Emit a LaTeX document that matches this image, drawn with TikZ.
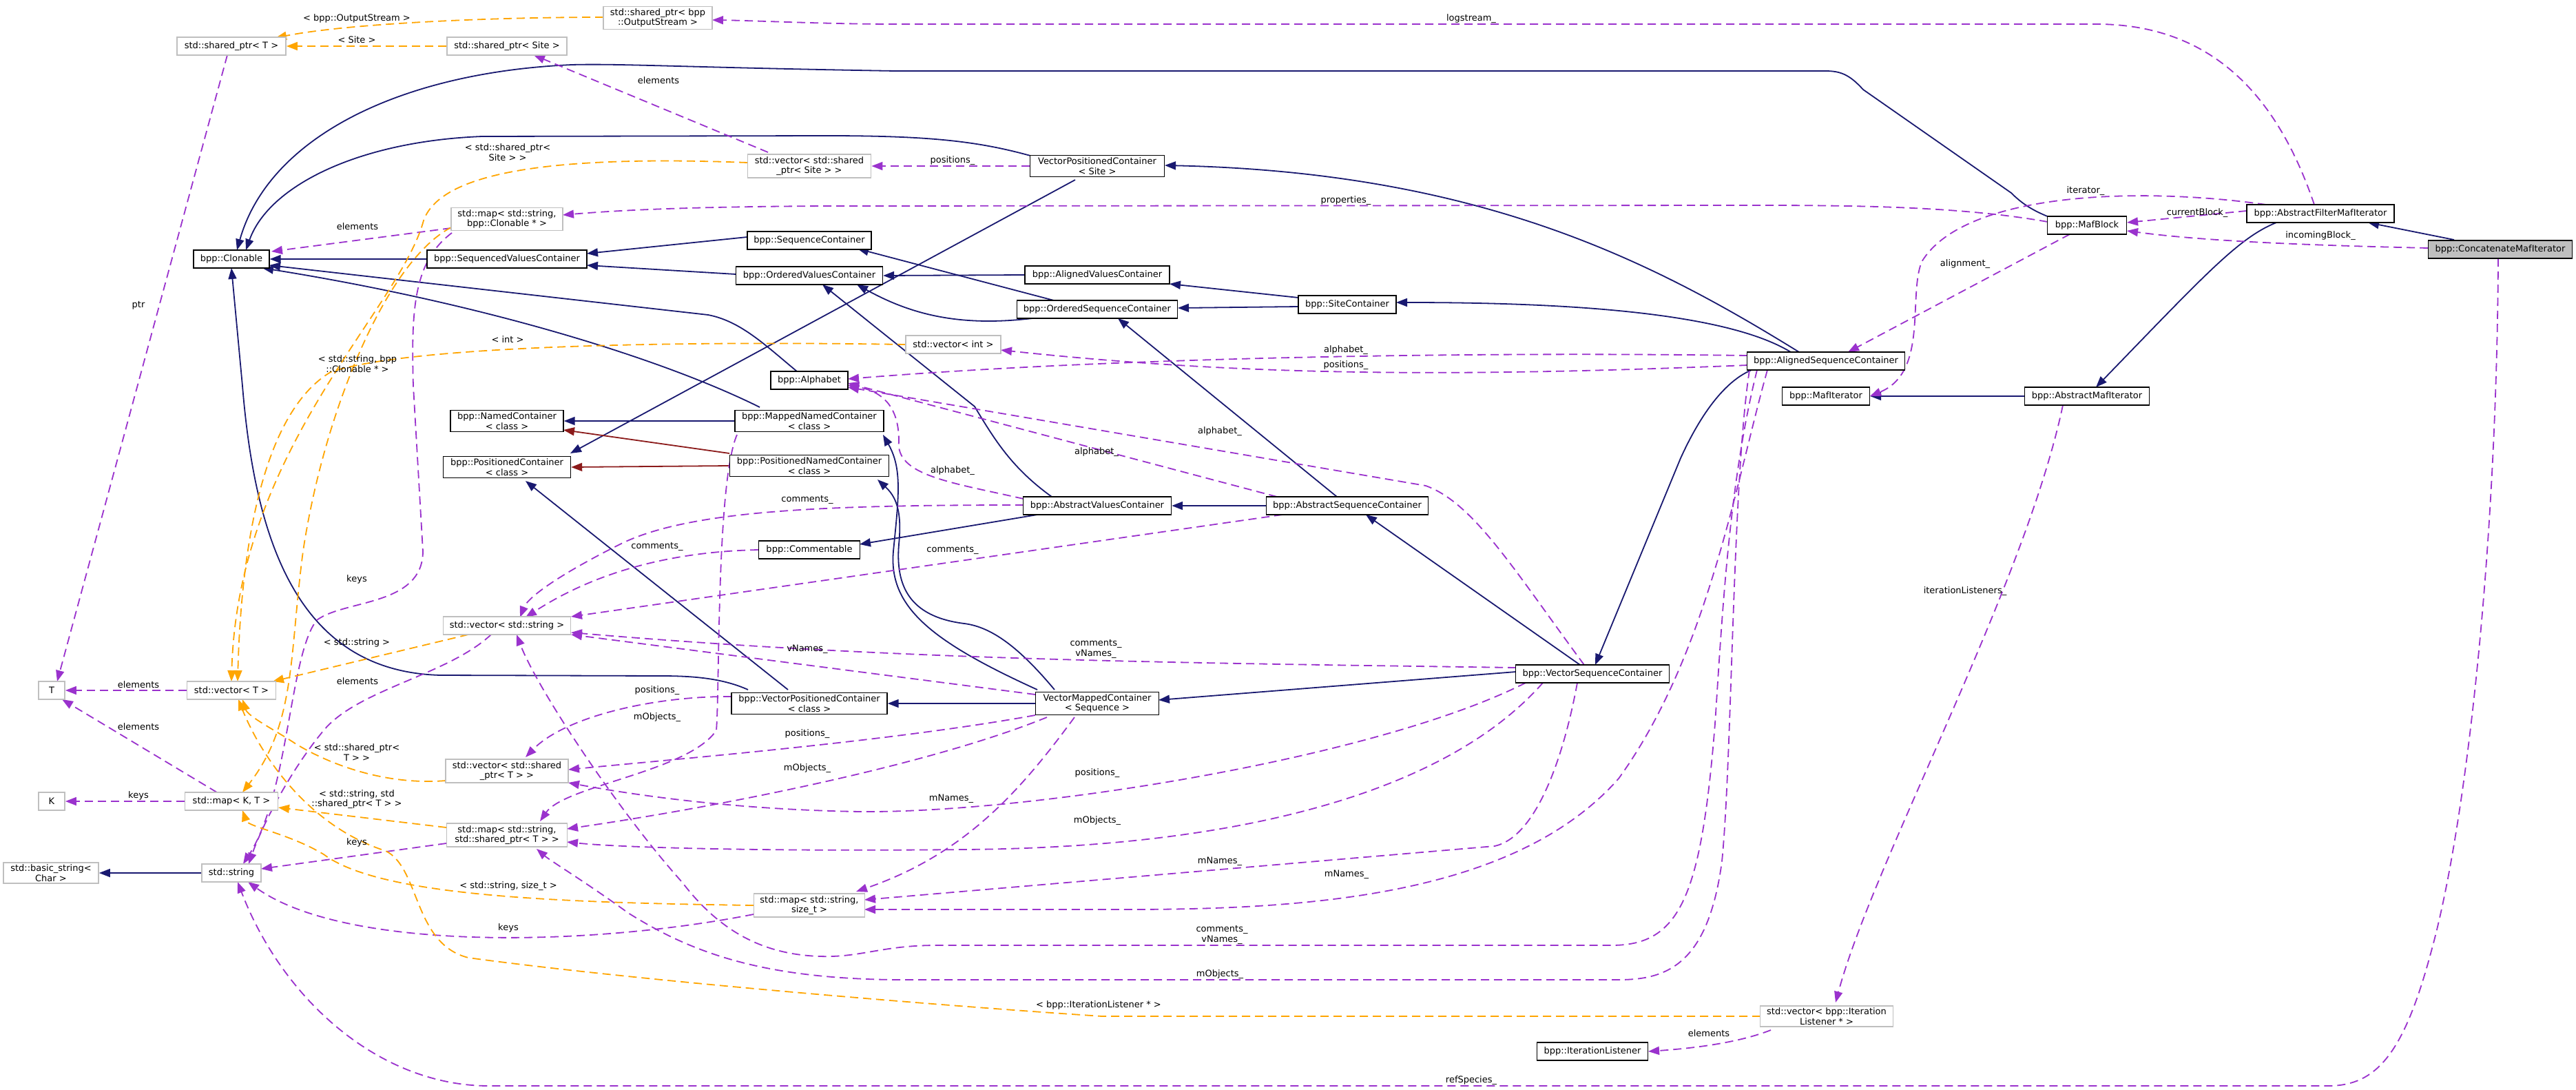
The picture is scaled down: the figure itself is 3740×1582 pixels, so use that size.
\documentclass[tikz,border=0pt]{standalone}
\usepackage{fontspec}
\setmainfont{DejaVu Sans}
\usetikzlibrary{arrows.meta,calc}
\definecolor{navyc}{HTML}{191970}
\definecolor{redc}{HTML}{8B1A1A}
\definecolor{purc}{HTML}{9A32CD}
\definecolor{orac}{HTML}{FFA500}
\definecolor{extgray}{HTML}{BFBFBF}
\definecolor{maingray}{HTML}{BFBFBF}
\newcommand\dfs{\fontsize{13}{14.6}\selectfont}
\pgfdeclarelayer{paper}
\pgfdeclarelayer{bg}
\pgfsetlayers{paper,bg,main}
\begin{document}
\begin{tikzpicture}[x=1pt,y=-1pt,
  box/.style={draw=black,line width=1.4pt,fill=white,font=\dfs,inner xsep=3pt,inner ysep=3pt,align=center,minimum height=26pt},
  ext/.style={box,draw=extgray,line width=1.8pt},
  lbl/.style={font=\dfs,inner sep=0pt,align=center},
  inh/.style={draw=navyc,line width=1.8pt,-{Triangle[length=16pt,width=12pt]}},
  inhr/.style={inh,draw=redc},
  use/.style={draw=purc,line width=1.8pt,dash pattern=on 12pt off 7pt,-{Triangle[length=16pt,width=12pt]}},
  tpl/.style={use,draw=orac}]
\useasboundingbox (0,0) rectangle (3740,1582);
\begin{pgfonlayer}{paper}
\fill[white] (0,0) rectangle (3740,1582);
\end{pgfonlayer}
% ---------------- nodes
\node[ext,minimum width=158pt] (spOut) at (955,26) {std::shared\_ptr< bpp\\::OutputStream >};
\node[ext,minimum width=158pt] (spT) at (336,67) {std::shared\_ptr< T >};
\node[ext,minimum width=174pt] (spSite) at (736,67) {std::shared\_ptr< Site >};
\node[ext,minimum width=179pt] (vecSpSite) at (1175,241) {std::vector< std::shared\\\_ptr< Site > >};
\node[ext,minimum width=162pt] (mapClon) at (736,318) {std::map< std::string,\\bpp::Clonable * >};
\node[box,minimum width=110pt] (clonable) at (336,376) {bpp::Clonable};
\node[box,minimum width=232pt] (seqValC) at (736,376) {bpp::SequencedValuesContainer};
\node[box,minimum width=180pt] (seqC) at (1175,349) {bpp::SequenceContainer};
\node[box,minimum width=213pt] (ordValC) at (1175,400) {bpp::OrderedValuesContainer};
\node[box,minimum width=112pt] (alphabet) at (1175,552) {bpp::Alphabet};
\node[box,minimum width=195pt] (vpcSite) at (1593,241) {VectorPositionedContainer\\< Site >};
\node[box,minimum width=210pt] (alValC) at (1593,399) {bpp::AlignedValuesContainer};
\node[box,minimum width=233pt] (ordSeqC) at (1593,449) {bpp::OrderedSequenceContainer};
\node[box,minimum width=142pt] (siteC) at (1956,442) {bpp::SiteContainer};
\node[ext,minimum width=138pt] (vecInt) at (1384,500) {std::vector< int >};
\node[box,minimum width=229pt] (alSeqC) at (2651,524) {bpp::AlignedSequenceContainer};
\node[box,minimum width=115pt] (mafBlock) at (3030,327) {bpp::MafBlock};
\node[box,minimum width=214pt] (absFilt) at (3369,310) {bpp::AbstractFilterMafIterator};
\node[box,fill=maingray,minimum width=209pt] (concat) at (3630,362) {bpp::ConcatenateMafIterator};
\node[box,minimum width=127pt] (mafIt) at (2651,575) {bpp::MafIterator};
\node[box,minimum width=181pt] (absMafIt) at (3030,575) {bpp::AbstractMafIterator};
\node[box,minimum width=164pt] (namedC) at (736,611) {bpp::NamedContainer\\< class >};
\node[box,minimum width=216pt] (mappedNC) at (1175,611) {bpp::MappedNamedContainer\\< class >};
\node[box,minimum width=185pt] (posC) at (736,678) {bpp::PositionedContainer\\< class >};
\node[box,minimum width=231pt] (posNC) at (1175,676) {bpp::PositionedNamedContainer\\< class >};
\node[box,minimum width=215pt] (absValC) at (1593,734) {bpp::AbstractValuesContainer};
\node[box,minimum width=235pt] (absSeqC) at (1956,734) {bpp::AbstractSequenceContainer};
\node[box,minimum width=147pt] (commentable) at (1175,798) {bpp::Commentable};
\node[ext,minimum width=185pt] (vecStr) at (736,908) {std::vector< std::string >};
\node[ext,minimum width=38pt] (T) at (75,1002) {T};
\node[ext,minimum width=129pt] (vecT) at (336,1002) {std::vector< T >};
\node[box,minimum width=226pt] (vpcClass) at (1175,1021) {bpp::VectorPositionedContainer\\< class >};
\node[box,minimum width=179pt] (vmc) at (1593,1021) {VectorMappedContainer\\< Sequence >};
\node[box,minimum width=223pt] (vsc) at (2312,978) {bpp::VectorSequenceContainer};
\node[ext,minimum width=38pt] (K) at (75,1163) {K};
\node[ext,minimum width=135pt] (mapKT) at (336,1163) {std::map< K, T >};
\node[ext,minimum width=138pt] (basicStr) at (74,1267) {std::basic\_string<\\Char >};
\node[ext,minimum width=86pt] (str) at (336,1267) {std::string};
\node[ext,minimum width=178pt] (vecSpT) at (736,1119) {std::vector< std::shared\\\_ptr< T > >};
\node[ext,minimum width=175pt] (mapSpT) at (736,1212) {std::map< std::string,\\std::shared\_ptr< T > >};
\node[ext,minimum width=161pt] (mapSize) at (1175,1314) {std::map< std::string,\\size\_t >};
\node[ext,minimum width=193pt] (vecIL) at (2652,1475) {std::vector< bpp::Iteration\\Listener * >};
\node[box,minimum width=161pt] (iterL) at (2312,1526) {bpp::IterationListener};
% ---------------- edges
\begin{pgfonlayer}{bg}
% inheritance
\draw[inh] (seqValC.west) -- (clonable.east);
\draw[inh] ($(seqC)+(-90,-5)$) -- ($(seqValC)+(116,-8)$);
\draw[inh] ($(ordValC)+(-107,-2)$) -- ($(seqValC)+(116,9)$);
\draw[inh] ($(alphabet)+(-18,-13)$) .. controls (1110,500) and (1075,466) .. (1028,457) -- ($(clonable)+(55,9)$);
\draw[inh] ($(mappedNC)+(-72,-20)$) .. controls (960,520) and (700,440) .. ($(clonable)+(45,13)$);
\draw[inh] ($(vpcSite)+(-97,-15)$) .. controls (1420,205) and (1350,197) .. (1200,197) -- (700,198) .. controls (520,205) and (390,270) .. ($(clonable)+(21,-13)$);
\draw[inh] ($(mafBlock)+(-55,-12)$) .. controls (2950,305) and (2935,295) .. (2920,280) -- (2705,130) .. controls (2685,108) and (2672,103) .. (2650,103) -- (1300,103) .. controls (1000,98) and (900,92) .. (830,94) .. controls (580,105) and (390,200) .. ($(clonable)+(8,-13)$);
\draw[inh] ($(vpcClass)+(-89,-20)$) .. controls (1050,985) and (1010,981) .. (960,981) -- (640,980) .. controls (430,975) and (370,780) .. (352,560) -- ($(clonable)+(0,13)$);
\draw[inh] ($(vpcSite)+(-32,20)$) -- ($(posC)+(92,-20)$);
\draw[inh] (alValC.west) -- (ordValC.east);
\draw[inh] ($(ordSeqC)+(-94,13)$) .. controls (1390,475) and (1320,455) .. ($(ordValC)+(69,13)$);
\draw[inh] ($(ordSeqC)+(-63,-13)$) -- ($(seqC)+(70,12)$);
\draw[inh] ($(siteC)+(-71,-10)$) -- ($(alValC)+(105,13)$);
\draw[inh] ($(siteC)+(-71,3)$) -- ($(ordSeqC)+(117,-2)$);
\draw[inh] ($(alSeqC)+(-51,-13)$) .. controls (2500,450) and (2250,439) .. ($(siteC)+(71,-3)$);
\draw[inh] ($(alSeqC)+(-39,-13)$) .. controls (2400,380) and (2150,250) .. ($(vpcSite)+(98,-1)$);
\draw[inh] (absSeqC.west) -- (absValC.east);
\draw[inh] ($(absSeqC)+(-15,-13)$) -- ($(ordSeqC)+(30,13)$);
\draw[inh] ($(absValC)+(-66,-13)$) .. controls (1470,680) and (1445,640) .. (1415,590) -- ($(ordValC)+(19,13)$);
\draw[inh] ($(absValC)+(-87,13)$) -- ($(commentable)+(73,-8)$);
\draw[inh] ($(vmc)+(-87,-20)$) .. controls (1350,930) and (1290,880) .. (1297,800) .. controls (1305,720) and (1310,680) .. ($(mappedNC)+(107,20)$);
\draw[inh] ($(vmc)+(-62,-20)$) .. controls (1480,940) and (1440,910) .. (1400,905) .. controls (1320,895) and (1300,850) .. (1305,790) .. controls (1310,740) and (1300,720) .. ($(posNC)+(99,20)$);
\draw[inh] (vmc.west) -- (vpcClass.east);
\draw[inh] ($(vsc)+(-111,-3)$) -- ($(vmc)+(89,-5)$);
\draw[inh] ($(vsc)+(-18,-13)$) -- ($(absSeqC)+(27,13)$);
\draw[inh] ($(alSeqC)+(-108,13)$) .. controls (2500,555) and (2465,610) .. (2440,665) -- ($(vsc)+(4,-13)$);
\draw[inh] ($(vpcClass)+(-31,-20)$) -- ($(posC)+(27,20)$);
\draw[inh] (mappedNC.west) -- (namedC.east);
\draw[inhr] ($(posNC)+(-116,-18)$) -- ($(namedC)+(82,13)$);
\draw[inhr] (posNC.west) -- (posC.east);
\draw[inh] (str.west) -- (basicStr.east);
\draw[inh] (absMafIt.west) -- (mafIt.east);
\draw[inh] ($(absFilt)+(-64,13)$) .. controls (3250,345) and (3200,400) .. ($(absMafIt)+(13,-13)$);
\draw[inh] ($(concat)+(-67,-14)$) -- ($(absFilt)+(69,13)$);
% usage
\draw[use] ($(absFilt)+(-9,-13)$) .. controls (3310,150) and (3220,35) .. (3043,35) -- (1300,35) .. controls (1200,35) and (1100,30) .. ($(spOut)+(79,3)$);
\draw[use] ($(vecSpSite)+(-60,-20)$) -- ($(spSite)+(39,13)$);
\draw[use] (vpcSite.west) -- (vecSpSite.east);
\draw[use] ($(mafBlock)+(-57,-5)$) .. controls (2850,300) and (2700,298) .. (2550,298) -- (1200,299) .. controls (1000,300) and (900,305) .. ($(mapClon)+(81,-6)$);
\draw[use] ($(mapClon)+(-81,13)$) -- ($(clonable)+(58,-11)$);
\draw[use] ($(spT)+(-6,13)$) -- ($(T)+(8,-13)$);
\draw[use] ($(absFilt)+(-107,-4)$) -- ($(mafBlock)+(58,-4)$);
\draw[use] ($(concat)+(-105,-2)$) .. controls (3350,356) and (3200,350) .. ($(mafBlock)+(58,8)$);
\draw[use] ($(mafBlock)+(-25,13)$) -- ($(alSeqC)+(32,-13)$);
\draw[use] ($(absFilt)+(-79,-13)$) .. controls (3100,270) and (2850,280) .. (2790,380) .. controls (2770,430) and (2800,540) .. ($(mafIt)+(64,0)$);
\draw[use] ($(alSeqC)+(-114,-8)$) .. controls (2100,510) and (1600,520) .. ($(alphabet)+(56,-2)$);
\draw[use] ($(alSeqC)+(-114,6)$) .. controls (2100,548) and (1800,545) .. ($(vecInt)+(69,8)$);
\draw[use] ($(vsc)+(-12,-13)$) .. controls (2200,830) and (2140,730) .. (2070,705) -- ($(alphabet)+(56,10)$);
\draw[use] ($(absSeqC)+(-102,-13)$) -- ($(alphabet)+(56,4)$);
\draw[use] ($(absValC)+(-107,-10)$) .. controls (1380,700) and (1300,690) .. (1305,640) .. controls (1305,600) and (1290,570) .. ($(alphabet)+(56,7)$);
\draw[use] ($(absValC)+(-107,-1)$) .. controls (1200,733) and (1000,740) .. (900,790) .. controls (800,840) and (765,870) .. ($(vecStr)+(19,-12)$);
\draw[use] ($(commentable)+(-74,0)$) .. controls (1000,800) and (880,820) .. ($(vecStr)+(27,-12)$);
\draw[use] ($(absSeqC)+(-94,13)$) -- ($(vecStr)+(93,-13)$);
\draw[use] ($(vsc)+(-111,-9)$) .. controls (1700,962) and (1300,958) .. ($(vecStr)+(93,10)$);
\draw[use] ($(vmc)+(-90,-13)$) -- ($(vecStr)+(93,13)$);
\draw[use] ($(alSeqC)+(-100,13)$) .. controls (2510,700) and (2500,900) .. (2490,1050) .. controls (2470,1300) and (2440,1372) .. (2340,1372) -- (1360,1372) .. controls (1280,1372) and (1250,1390) .. (1190,1388) .. controls (1100,1385) and (1040,1345) .. (990,1280) .. controls (900,1180) and (780,1000) .. ($(vecStr)+(14,13)$);
\draw[use] ($(vecStr)+(-23,13)$) .. controls (650,980) and (520,1000) .. (470,1060) .. controls (420,1120) and (380,1200) .. ($(str)+(25,-13)$);
\draw[use] ($(mapClon)+(-80,20)$) .. controls (600,380) and (597,450) .. (600,560) -- (614,800) .. controls (614,880) and (500,870) .. (460,900) .. controls (420,950) and (420,1150) .. ($(str)+(17,-13)$);
\draw[use] ($(mapSpT)+(-88,12)$) -- ($(str)+(43,-6)$);
\draw[use] ($(mapSize)+(-81,13)$) .. controls (850,1375) and (500,1380) .. ($(str)+(24,13)$);
\draw[use] ($(concat)+(-3,13)$) .. controls (3625,800) and (3580,1200) .. (3530,1380) .. controls (3490,1530) and (3450,1576) .. (3380,1576) -- (710,1576) .. controls (550,1576) and (410,1450) .. ($(str)+(9,13)$);
\draw[use] (vecT.west) -- (T.east);
\draw[use] ($(mapKT)+(-21,-13)$) -- ($(T)+(15,13)$);
\draw[use] (mapKT.west) -- (K.east);
\draw[use] ($(vpcClass)+(-113,-10)$) .. controls (950,1010) and (820,1040) .. ($(vecSpT)+(27,-20)$);
\draw[use] ($(vmc)+(-90,17)$) .. controls (1300,1075) and (1000,1100) .. ($(vecSpT)+(89,-2)$);
\draw[use] ($(vsc)+(-97,13)$) .. controls (2000,1100) and (1500,1180) .. (1250,1178) .. controls (1050,1175) and (900,1150) .. ($(vecSpT)+(89,17)$);
\draw[use] ($(mappedNC)+(-105,20)$) .. controls (1040,700) and (1045,1000) .. (1040,1060) .. controls (1000,1120) and (820,1140) .. ($(mapSpT)+(48,-20)$);
\draw[use] ($(vmc)+(-73,20)$) .. controls (1350,1110) and (1050,1170) .. ($(mapSpT)+(87,-9)$);
\draw[use] ($(vsc)+(-72,13)$) .. controls (2100,1150) and (1800,1230) .. (1400,1233) .. controls (1100,1236) and (900,1230) .. ($(mapSpT)+(87,10)$);
\draw[use] ($(alSeqC)+(-111,13)$) .. controls (2515,700) and (2515,1100) .. (2500,1250) .. controls (2480,1400) and (2420,1422) .. (2350,1422) -- (1300,1422) .. controls (1100,1420) and (1000,1380) .. (912,1325) .. controls (850,1280) and (800,1250) .. ($(mapSpT)+(43,20)$);
\draw[use] ($(vmc)+(-33,20)$) .. controls (1480,1150) and (1400,1240) .. ($(mapSize)+(68,-20)$);
\draw[use] ($(vsc)+(-22,13)$) .. controls (2270,1100) and (2230,1215) .. (2170,1228) -- ($(mapSize)+(80,-8)$);
\draw[use] ($(alSeqC)+(-85,13)$) .. controls (2520,700) and (2480,950) .. (2350,1130) .. controls (2200,1300) and (1900,1320) .. (1636,1320) -- ($(mapSize)+(80,6)$);
\draw[use] ($(absMafIt)+(-35,13)$) .. controls (2940,850) and (2720,1250) .. ($(vecIL)+(13,-20)$);
\draw[use] ($(vecIL)+(-81,20)$) .. controls (2520,1515) and (2450,1522) .. ($(iterL)+(81,0)$);
% template instances
\draw[tpl] ($(spOut)+(-79,-1)$) .. controls (700,25) and (500,35) .. ($(spT)+(64,-12)$);
\draw[tpl] (spSite.west) -- (spT.east);
\draw[tpl] ($(vecSpSite)+(-90,-5)$) .. controls (800,225) and (640,250) .. (615,320) .. controls (580,450) and (345,650) .. ($(vecT)+(0,-13)$);
\draw[tpl] ($(vecInt)+(-69,0)$) .. controls (1000,495) and (600,500) .. (480,540) .. controls (380,600) and (350,800) .. ($(vecT)+(9,-13)$);
\draw[tpl] ($(vecStr)+(-56,13)$) -- ($(vecT)+(60,-13)$);
\draw[tpl] ($(vecSpT)+(-89,14)$) .. controls (560,1140) and (480,1110) .. (430,1080) .. controls (400,1060) and (360,1040) .. ($(vecT)+(16,13)$);
\draw[tpl] ($(vecIL)+(-96,0)$) -- (1600,1475) .. controls (1300,1455) and (900,1420) .. (680,1390) .. controls (600,1370) and (610,1260) .. (560,1235) .. controls (450,1200) and (380,1100) .. ($(vecT)+(10,13)$);
\draw[tpl] ($(mapSpT)+(-88,-11)$) -- ($(mapKT)+(68,9)$);
\draw[tpl] ($(mapSize)+(-81,0)$) .. controls (800,1310) and (550,1300) .. (470,1240) .. controls (420,1210) and (360,1200) .. ($(mapKT)+(16,13)$);
\draw[tpl] ($(mapClon)+(-81,12)$) .. controls (560,380) and (470,600) .. (440,800) .. controls (420,950) and (430,1050) .. ($(mapKT)+(16,-13)$);
\end{pgfonlayer}
% ---------------- labels
\node[lbl] (l1) at (518,27) {< bpp::OutputStream >};
\node[lbl] (l2) at (518,58) {< Site >};
\node[lbl] (l3) at (956,117) {elements};
\node[lbl] (l4) at (737,221) {< std::shared\_ptr<\\Site > >};
\node[lbl] (l5) at (1383,233) {positions\_};
\node[lbl] (l6) at (2136,27) {logstream\_};
\node[lbl] (l7) at (1954,291) {properties\_};
\node[lbl] (l8) at (519,329) {elements};
\node[lbl] (l9) at (201,443) {ptr};
\node[lbl] (l10) at (737,493) {< int >};
\node[lbl] (l11) at (519,528) {< std::string, bpp\\::Clonable * >};
\node[lbl] (l12) at (1954,508) {alphabet\_};
\node[lbl] (l13) at (1954,530) {positions\_};
\node[lbl] (l14) at (3028,277) {iterator\_};
\node[lbl] (l15) at (3190,309) {currentBlock\_};
\node[lbl] (l16) at (3369,342) {incomingBlock\_};
\node[lbl] (l17) at (2853,383) {alignment\_};
\node[lbl] (l18) at (1771,626) {alphabet\_};
\node[lbl] (l19) at (1592,656) {alphabet\_};
\node[lbl] (l20) at (1383,683) {alphabet\_};
\node[lbl] (l21) at (1172,725) {comments\_};
\node[lbl] (l22) at (954,793) {comments\_};
\node[lbl] (l23) at (1383,798) {comments\_};
\node[lbl] (l24) at (518,841) {keys};
\node[lbl] (l25) at (2853,858) {iterationListeners\_};
\node[lbl] (l26) at (518,933) {< std::string >};
\node[lbl] (l27) at (1591,942) {comments\_\\vNames\_};
\node[lbl] (l28) at (1172,942) {vNames\_};
\node[lbl] (l29) at (201,994) {elements};
\node[lbl] (l30) at (519,989) {elements};
\node[lbl] (l31) at (954,1002) {positions\_};
\node[lbl] (l32) at (954,1041) {mObjects\_};
\node[lbl] (l33) at (1172,1065) {positions\_};
\node[lbl] (l34) at (201,1055) {elements};
\node[lbl] (l35) at (518,1092) {< std::shared\_ptr<\\T > >};
\node[lbl] (l36) at (1172,1115) {mObjects\_};
\node[lbl] (l37) at (1593,1122) {positions\_};
\node[lbl] (l38) at (201,1155) {keys};
\node[lbl] (l39) at (518,1160) {< std::string, std\\::shared\_ptr< T > >};
\node[lbl] (l40) at (1381,1159) {mNames\_};
\node[lbl] (l41) at (1593,1191) {mObjects\_};
\node[lbl] (l42) at (518,1223) {keys};
\node[lbl] (l43) at (1771,1250) {mNames\_};
\node[lbl] (l44) at (1955,1269) {mNames\_};
\node[lbl] (l45) at (738,1286) {< std::string, size\_t >};
\node[lbl] (l46) at (738,1347) {keys};
\node[lbl] (l47) at (1774,1357) {comments\_\\vNames\_};
\node[lbl] (l48) at (1771,1414) {mObjects\_};
\node[lbl] (l49) at (1595,1459) {< bpp::IterationListener * >};
\node[lbl] (l50) at (2481,1500) {elements};
\node[lbl] (l51) at (2136,1568) {refSpecies\_};
\end{tikzpicture}
\end{document}
